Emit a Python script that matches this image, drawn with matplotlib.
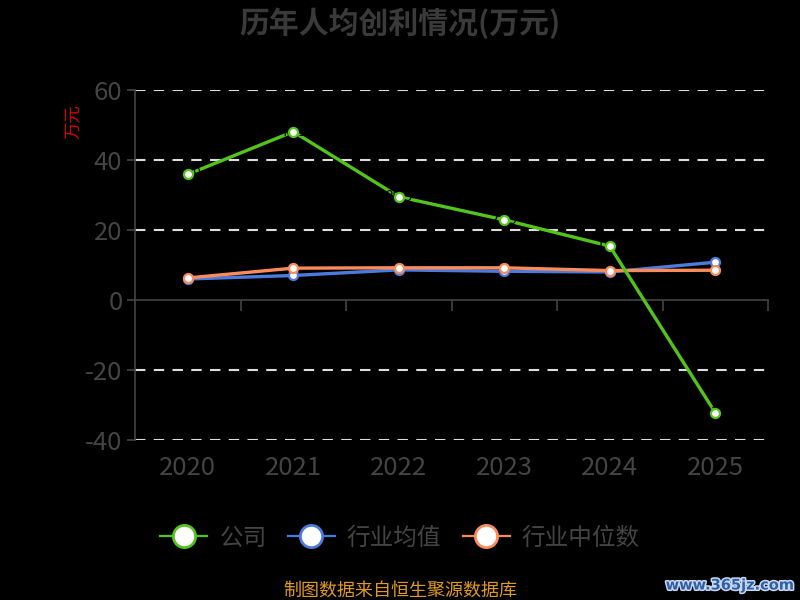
import matplotlib
matplotlib.use("Agg")
import matplotlib.pyplot as plt
import matplotlib.patheffects as pe
from matplotlib.lines import Line2D

plt.rcParams['font.family'] = ['Noto Sans CJK SC', 'DejaVu Sans']

years = ["2020", "2021", "2022", "2023", "2024", "2025"]
company = [35.9, 48.1, 29.5, 22.9, 15.4, -32.2]
industry_avg = [6.0, 7.0, 8.6, 8.2, 8.0, 10.8]
industry_median = [6.3, 9.1, 9.2, 9.2, 8.4, 8.5]
y_ticks = [-40, -20, 0, 20, 40, 60]

green = "#52c41a"
blue = "#4b7bdc"
orange = "#fa8c5c"
text_gray = "#444444"
axis_gray = "#444444"

fig = plt.figure(figsize=(8, 6), dpi=100, facecolor="black")
ax = fig.add_axes([0.16875, 0.2667, 0.79125, 0.5833])
ax.set_facecolor("black")

x = list(range(len(years)))
series = [(industry_avg, blue, 3), (industry_median, orange, 4), (company, green, 5)]
for vals, col, z in series:
    ax.plot(x, vals, color=col, lw=2.4, zorder=z, solid_capstyle="round")

# data labels (black on black, only visible where they cross the line)
for i, v in enumerate(company):
    ax.text(i, v, f"{v:.1f}", color="black", fontsize=10, ha="center",
            va="center", zorder=6)

for vals, col, z in series:
    ax.plot(x, vals, ls="none", marker="o", ms=6.5, mfc="white",
            mec=col, mew=1.6, zorder=z + 5)

ax.set_xlim(-0.5, len(years) - 0.5)
ax.set_ylim(-40, 60)
ax.set_yticks(y_ticks)
ax.set_yticklabels([str(t) for t in y_ticks])
for t in [-40, -20, 20, 40, 60]:
    ax.axhline(t, color="#dddddd", lw=1.5, ls=(0, (5, 4)), zorder=1)

ax.spines["top"].set_visible(False)
ax.spines["right"].set_visible(False)
ax.spines["bottom"].set_visible(False)
ax.spines["left"].set_color(axis_gray)
ax.spines["left"].set_linewidth(1.2)
ax.tick_params(axis="y", colors=axis_gray, labelcolor=text_gray, labelsize=18.5,
               length=6, width=1.2, pad=3)
ax.set_xticks(x)
ax.set_xticklabels(years)
ax.tick_params(axis="x", length=0, labelcolor=text_gray, labelsize=18.5, pad=11)

# zero axis line with ticks between categories
sec = ax.secondary_xaxis(0.4)
sec.set_xticks([i + 0.5 for i in x])
sec.set_xticklabels([])
sec.spines["bottom"].set_color(axis_gray)
sec.spines["bottom"].set_linewidth(1.2)
sec.tick_params(axis="x", colors=axis_gray, length=8, width=1.2, direction="out")

fig.text(0.0915, 0.797, "万元", color="#dd0000", fontsize=12.5, rotation=90,
         ha="center", va="center")

fig.text(0.5, 0.962, "历年人均创利情况(万元)", color="#3a3a3a", fontsize=21.5,
         fontweight="bold", ha="center", va="center")

handles = [Line2D([], [], color=c, lw=1.6, marker="o", ms=16, mfc="white",
                  mec=c, mew=2) for c in (green, blue, orange)]
fig.legend(handles, ["公司", "行业均值", "行业中位数"], loc="center",
           bbox_to_anchor=(0.5, 0.103), ncol=3, frameon=False, fontsize=17,
           labelcolor=text_gray, handlelength=2.0, handletextpad=0.5,
           columnspacing=0.9)

fig.text(0.5, 0.015, "制图数据来自恒生聚源数据库", color="#e09a20", fontsize=13,
         ha="center", va="center")
fig.text(0.993, 0.025, "www.365jz.com", color="#2f5fa8", fontsize=10.5,
         fontweight="bold", ha="right", va="center", family="DejaVu Sans",
         path_effects=[pe.withStroke(linewidth=2.2, foreground="#c8d8f0")])

fig.savefig("out.png", dpi=100, facecolor="black")
